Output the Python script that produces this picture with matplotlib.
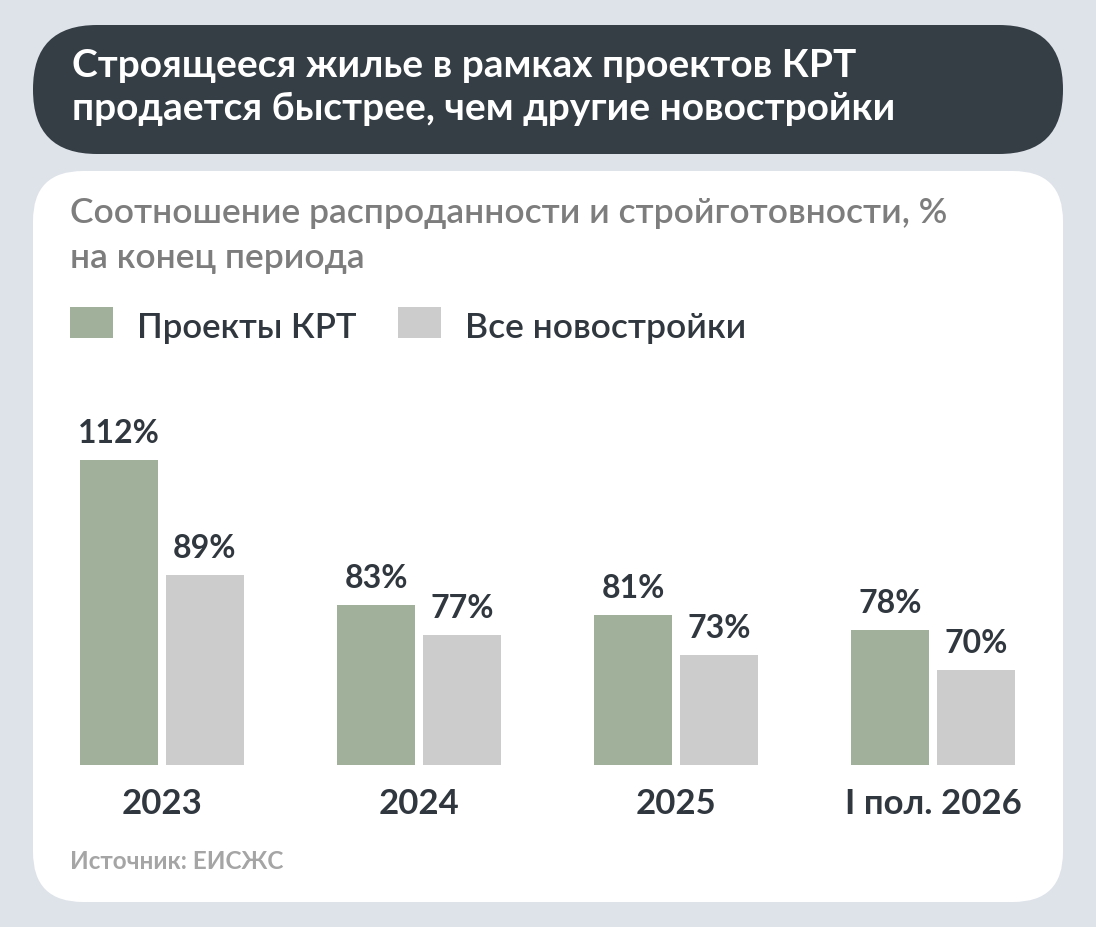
import matplotlib.pyplot as plt
import numpy as np
from matplotlib.patches import FancyBboxPatch, Rectangle

# data
periods = ["2023", "2024", "2025", "I пол. 2026"]
krt = [112, 83, 81, 78]
all_new = [89, 77, 73, 70]
series_names = ["Проекты КРТ", "Все новостройки"]

title_lines = ["Строящееся жилье в рамках проектов КРТ",
               "продается быстрее, чем другие новостройки"]
subtitle_lines = ["Соотношение распроданности и стройготовности, %",
                  "на конец периода"]
source = "Источник: ЕИСЖС"

BG = "#dee3ea"
DARK = "#353d45"
GREEN = "#a0b09b"
GRAY = "#cccccc"
TEXT = "#30373e"

plt.rcParams["font.family"] = ["Lato", "DejaVu Sans"]

W, H = 1096, 928
fig = plt.figure(figsize=(W / 100, H / 100), dpi=100)
fig.patch.set_facecolor(BG)

# overlay in pixel coords for boxes and header text
bg = fig.add_axes([0, 0, 1, 1])
bg.set_xlim(0, W)
bg.set_ylim(H, 0)
bg.axis("off")

bg.add_patch(FancyBboxPatch((33, 26), 1030, 129,
                            boxstyle="round,pad=0,rounding_size=64",
                            fc=DARK, ec="none"))
bg.add_patch(FancyBboxPatch((33, 172), 1030, 731,
                            boxstyle="round,pad=0,rounding_size=50",
                            fc="white", ec="none"))

for line, y in zip(title_lines, (77, 120)):
    bg.text(72, y, line, color="white", fontsize=28, fontweight="bold",
            va="baseline", ha="left")
for line, y in zip(subtitle_lines, (223, 268)):
    bg.text(70, y, line, color="#7d7d7d", fontsize=25.5, fontweight="semibold",
            va="baseline", ha="left")

# legend
bg.add_patch(Rectangle((70, 308), 43, 31, fc=GREEN, ec="none"))
bg.add_patch(Rectangle((398, 308), 43, 31, fc=GRAY, ec="none"))
bg.text(137, 338, series_names[0], color=TEXT, fontsize=25, va="baseline", fontweight="semibold")
bg.text(465, 338, series_names[1], color=TEXT, fontsize=25.5, va="baseline", fontweight="semibold")

bg.text(70, 869, source, color="#a5a5a5", fontsize=17.5, fontweight="bold", va="baseline")

# bars
base_px, top_px = 766, 400
ax = fig.add_axes([33 / W, (H - base_px) / H, 1030 / W, (base_px - top_px) / H])
ax.patch.set_alpha(0)
x = np.arange(len(periods))
bw = 78 / 257
off = 86 / 2 / 257
ymin = 51
ax.bar(x - off, np.array(krt) - ymin, bw, bottom=ymin, color=GREEN)
ax.bar(x + off, np.array(all_new) - ymin, bw, bottom=ymin, color=GRAY)
ax.set_xlim((33 - 162) / 257, (1063 - 162) / 257)
ax.set_ylim(ymin, ymin + (base_px - top_px) / 5)

for xs, vals in ((x - off, krt), (x + off, all_new)):
    for xi, v in zip(xs, vals):
        ax.annotate(f"{v}%", (xi, v), xytext=(0, 13), textcoords="offset points",
                    ha="center", va="baseline", fontsize=23, fontweight="bold", color=TEXT)

ax.set_xticks(x, periods)
ax.tick_params(axis="x", length=0, pad=16, labelsize=25, labelcolor=TEXT)
for lab in ax.get_xticklabels():
    lab.set_fontweight("bold")
ax.set_yticks([])
for s in ax.spines.values():
    s.set_visible(False)

fig.savefig("out.png", dpi=100, facecolor=BG)
